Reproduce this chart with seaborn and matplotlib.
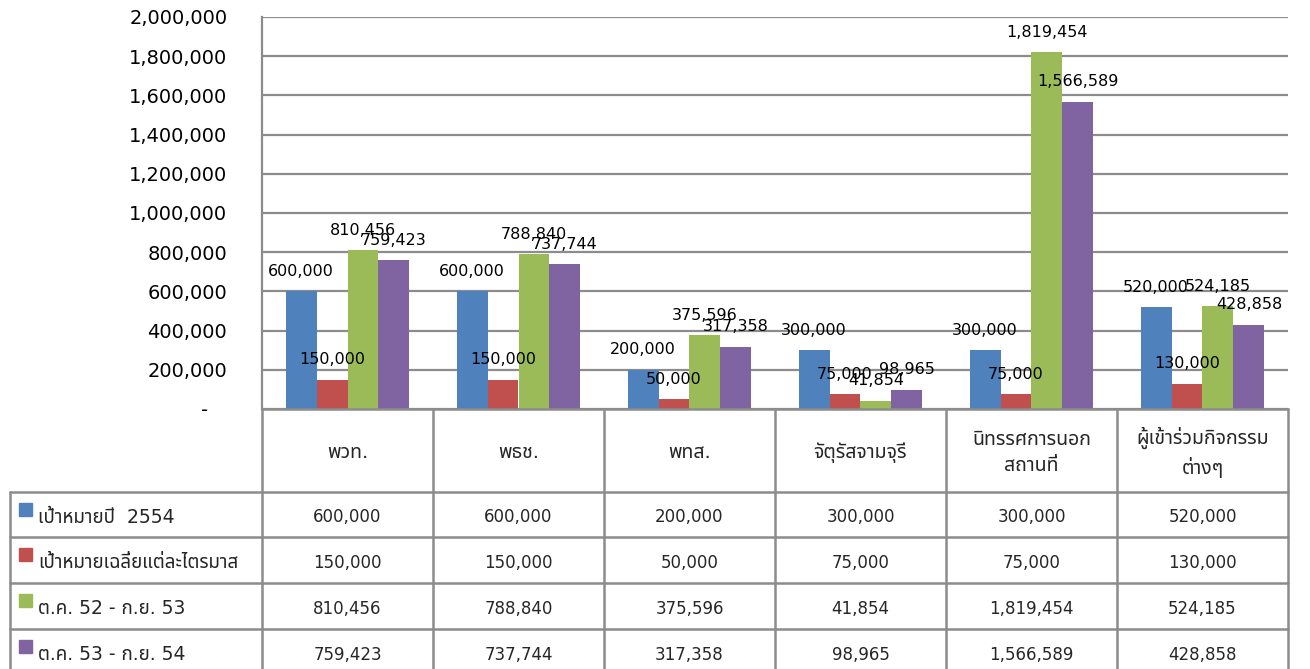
import numpy as np
import pandas as pd
import matplotlib
matplotlib.use("Agg")
import matplotlib.pyplot as plt
import seaborn as sns
from matplotlib import font_manager
from matplotlib.ft2font import FT2Font
from matplotlib.ticker import FuncFormatter, MultipleLocator

# =========================
# Data
# =========================
categories = ["พวท.", "พธช.", "พทส.", "จัตุรัสจามจุรี",
              "นิทรรศการนอก\nสถานที่", "ผู้เข้าร่วมกิจกรรม\nต่างๆ"]
series_names = ["เป้าหมายปี  2554", "เป้าหมายเฉลี่ยแต่ละไตรมาส",
                "ต.ค. 52 - ก.ย. 53", "ต.ค. 53 - ก.ย. 54"]
target_2554 = [600000, 600000, 200000, 300000, 300000, 520000]
target_quarter = [150000, 150000, 50000, 75000, 75000, 130000]
oct52_sep53 = [810456, 788840, 375596, 41854, 1819454, 524185]
oct53_sep54 = [759423, 737744, 317358, 98965, 1566589, 428858]
colors = ["#4F81BD", "#C0504D", "#9BBB59", "#8064A2"]

series_values = [target_2554, target_quarter, oct52_sep53, oct53_sep54]
df = pd.DataFrame({
    "category": categories * len(series_names),
    "series": [s for s in series_names for _ in categories],
    "value": [v for vals in series_values for v in vals],
})


# =========================
# Fonts (need a family with Thai glyphs)
# =========================
def find_thai_family():
    names = []
    for f in font_manager.fontManager.ttflist:
        try:
            if 0x0E01 in FT2Font(f.fname).get_charmap():
                names.append(f.name)
        except Exception:
            continue
    for pref in ["Tahoma", "Noto Sans Thai", "Loma", "Garuda", "Sarabun", "Norasi"]:
        if pref in names:
            return pref
    return names[0] if names else None


sns.set_theme(style="white")
thai = find_thai_family()
plt.rcParams["font.family"] = ["DejaVu Sans", thai] if thai else ["DejaVu Sans"]

# =========================
# Figure / chart
# =========================
W, H = 1310, 669
fig = plt.figure(figsize=(W / 100, H / 100), dpi=100)
fig.patch.set_facecolor("white")

x_left, x_right = 262, 1288
y_top, y_bottom = 17, 409
ax = fig.add_axes([x_left / W, 1 - y_bottom / H, (x_right - x_left) / W, (y_bottom - y_top) / H])

sns.barplot(data=df, x="category", y="value", hue="series", order=categories,
            hue_order=series_names, palette=colors, width=0.725, saturation=1,
            linewidth=0, ax=ax, legend=False)

grid_col = "#8C8C8C"
ax.set_ylim(0, 2000000)
ax.yaxis.set_major_locator(MultipleLocator(200000))
ax.yaxis.set_major_formatter(FuncFormatter(lambda v, p: "-   " if v == 0 else f"{v:,.0f}"))
ax.tick_params(axis="y", labelsize=14, length=0, pad=25, colors="black")
ax.set_xticks([])
ax.set_xlabel("")
ax.set_ylabel("")
ax.yaxis.grid(True, color=grid_col, linewidth=1.6)
ax.set_axisbelow(True)
for side in ["top", "right", "bottom"]:
    ax.spines[side].set_visible(False)
ax.spines["left"].set_color(grid_col)
ax.spines["left"].set_linewidth(1.6)

for cont in ax.containers:
    ax.bar_label(cont, labels=[f"{v:,.0f}" for v in cont.datavalues],
                 padding=9, fontsize=11.5, color="black")

# =========================
# Data table below the chart
# =========================
tab = fig.add_axes([0, 0, 1, 1])
tab.set_xlim(0, W)
tab.set_ylim(H, 0)
tab.axis("off")

col_w = (x_right - x_left) / len(categories)
col_edges = [x_left + i * col_w for i in range(len(categories) + 1)]
row_edges = [409, 492, 537, 583, 629, 675]
legend_left = 10
lw = 1.8

# horizontal lines
tab.plot([x_left, x_right], [row_edges[0]] * 2, color=grid_col, lw=lw)
for y in row_edges[1:-1]:
    tab.plot([legend_left, x_right], [y, y], color=grid_col, lw=lw)
# vertical lines
for x in col_edges:
    tab.plot([x, x], [row_edges[0], H], color=grid_col, lw=lw)
tab.plot([legend_left, legend_left], [row_edges[1], H], color=grid_col, lw=lw)

# header
for i, cat in enumerate(categories):
    cx = (col_edges[i] + col_edges[i + 1]) / 2
    tab.text(cx, (row_edges[0] + row_edges[1]) / 2 + 2, cat, ha="center", va="center",
             fontsize=14, linespacing=1.45)

# rows
for r, (name, vals, c) in enumerate(zip(series_names, series_values, colors)):
    cy = (row_edges[r + 1] + row_edges[r + 2]) / 2 + 3
    tab.add_patch(plt.Rectangle((19, cy - 15), 13, 13, color=c))
    tab.text(38, cy, name, ha="left", va="center", fontsize=13.5)
    for i, v in enumerate(vals):
        cx = (col_edges[i] + col_edges[i + 1]) / 2
        tab.text(cx, cy, f"{v:,.0f}", ha="center", va="center", fontsize=12)

fig.savefig("out.png", dpi=100)
